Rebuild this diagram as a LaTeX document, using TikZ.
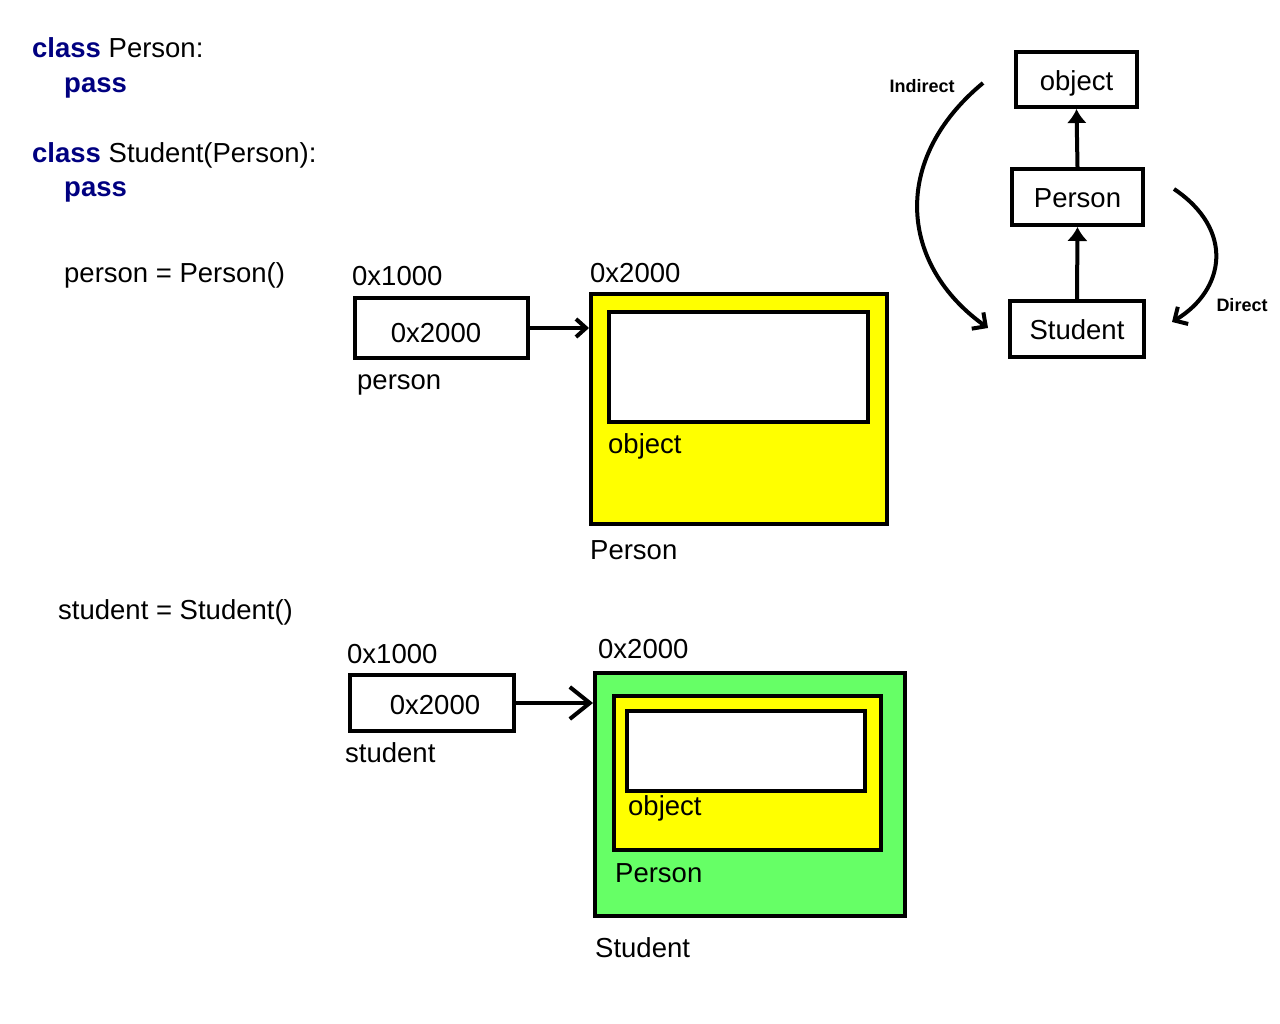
\documentclass[tikz,border=0pt]{standalone}
\usepackage{fontspec}
\setmainfont{Liberation Sans}
\usetikzlibrary{arrows.meta}
\definecolor{kwblue}{RGB}{0,0,128}
\definecolor{memyellow}{RGB}{255,255,0}
\definecolor{memgreen}{RGB}{102,255,102}
\newcommand{\kw}[1]{\textcolor{kwblue}{\textbf{#1}}}

\begin{document}
\begin{tikzpicture}[x=1pt, y=-1pt, >=Latex,
    txt/.style={font=\fontsize{27.5}{33}\selectfont, inner sep=0pt, anchor=base west},
    box/.style={draw, line width=4pt, inner sep=0pt, text height=22pt, text depth=0pt, font=\fontsize{27.5}{33}\selectfont},
    note/.style={font=\bfseries\fontsize{18}{22}\selectfont, inner sep=0pt},
    link/.style={line width=4pt}]
  \useasboundingbox (0,0) rectangle (1280,1024);

  % code
  \node[txt] (cperson) at (32,58) {\kw{class} Person:};
  \node[txt] (cpass1) at (64,93) {\kw{pass}};
  \node[txt] (cstudent) at (32,163) {\kw{class} Student(Person):};
  \node[txt] (cpass2) at (64,197) {\kw{pass}};

  % person = Person()
  \node[txt] (aperson) at (64,283) {person = Person()};
  \node[txt] (paddr) at (352,286) {0x1000};
  \node[box, text height=28pt, minimum width=173pt, minimum height=59pt] (pref) at (441,328) {0x2000\kern10pt};
  \node[txt] (pname) at (357,389) {person};
  \node[txt] (poaddr) at (590,283) {0x2000};
  \node[box, fill=memyellow, minimum width=296pt, minimum height=230pt] (pobj) at (739,409) {};
  \node[box, fill=white, minimum width=259pt, minimum height=110pt] (pbase) at (738.5,367) {};
  \node[txt] (pbasename) at (608,453) {object};
  \node[txt] (ptype) at (590,559) {Person};
  \draw[link, -{Straight Barb[length=10pt,width=18pt]}] (pref.east) -- (pref.east -| pobj.west);

  % student = Student()
  \node[txt] (astudent) at (58,619) {student = Student()};
  \node[txt] (saddr) at (347,663) {0x1000};
  \node[box, minimum width=164pt, minimum height=56pt] (sref) at (432,703) {\kern6pt0x2000};
  \node[txt] (sname) at (345,762) {student};
  \node[txt] (soaddr) at (598,658) {0x2000};
  \node[box, fill=memgreen, minimum width=310pt, minimum height=243pt] (sobj) at (750,794.5) {};
  \node[box, fill=memyellow, minimum width=267pt, minimum height=154pt] (smid) at (747.5,773) {};
  \node[box, fill=white, minimum width=238pt, minimum height=80pt] (sbase) at (746,751) {};
  \node[txt] (sbasename) at (628,815) {object};
  \node[txt] (smidname) at (615,882) {Person};
  \node[txt] (stype) at (595,957) {Student};
  \draw[link, -{Straight Barb[length=20pt,width=32pt]}] (sref.east) -- (sref.east -| sobj.west);

  % hierarchy
  \node[box, minimum width=121pt, minimum height=55pt] (hobj) at (1076.5,79.5) {object};
  \node[box, minimum width=131pt, minimum height=56pt] (hpers) at (1077.5,197) {Person};
  \node[box, minimum width=134pt, minimum height=56pt] (hstud) at (1077,329) {Student};
  \draw[link, -{Latex[length=14pt,width=20pt]}] (hpers.north) -- (hobj.south);
  \draw[link, -{Latex[length=14pt,width=21pt]}] (hstud.north) -- (hpers.south);

  \coordinate (indsrc) at (983,83);
  \coordinate (inddst) at (988,328);
  \coordinate (dirsrc) at (1174,189);
  \coordinate (dirdst) at (1172,322);
  \draw[link, -{Straight Barb[length=10pt,width=20pt]}] (indsrc) .. controls (890,160) and (900,265) .. (inddst);
  \draw[link, -{Straight Barb[length=10pt,width=20pt]}] (dirsrc) .. controls (1235,230) and (1225,290) .. (dirdst);
  \node[note] (lind) at (922,86) {Indirect};
  \node[note] (ldir) at (1242,305) {Direct};
\end{tikzpicture}
\end{document}
